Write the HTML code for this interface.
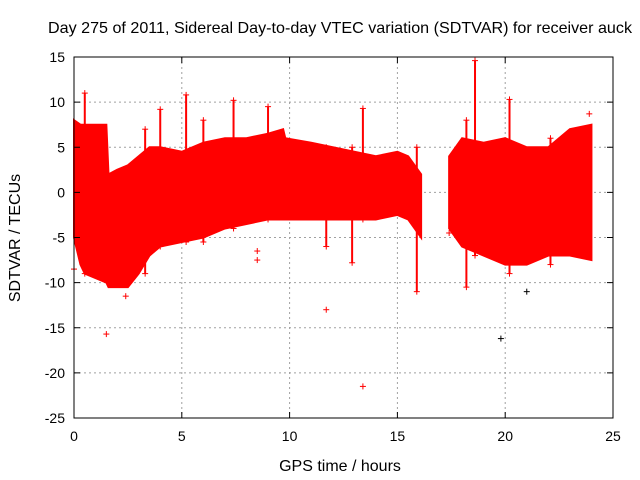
<!DOCTYPE html>
<html><head><meta charset="utf-8"><style>
body{margin:0;background:#fff}
svg{display:block;font-family:"Liberation Sans",sans-serif}
</style></head><body>
<svg id="chart" width="640" height="480">
<rect x="0" y="0" width="640" height="480" fill="#fff"/>
<text x="340" y="33" font-size="16" text-anchor="middle" textLength="584" lengthAdjust="spacingAndGlyphs">Day 275 of 2011, Sidereal Day-to-day VTEC variation (SDTVAR) for receiver auck</text>
<text x="340" y="471" font-size="16" text-anchor="middle">GPS time / hours</text>
<text transform="translate(20,238) rotate(-90)" font-size="16" text-anchor="middle">SDTVAR / TECUs</text>
<g id="grid"></g>
<g id="series"></g>
<g id="axes"></g>
</svg>
<script>
const xTicks=[0,5,10,15,20,25];
const yTicks=[15,10,5,0,-5,-10,-15,-20,-25];
const seg1Hours=[0,0.3,0.5,1,1.5,1.6,2,2.5,3,3.5,4,5,6,7,8,9,9.7,9.8,11,12,13,14,15,15.5,16.1];
const seg1Upper=[8,7.5,7.5,7.5,7.5,2,2.5,3,4,5,5,4.5,5.5,6,6,6.5,7,6,5.5,5,4.5,4,4.5,4,2];
const seg1Lower=[-5,-8,-9,-9.5,-10,-10.5,-10.5,-10.5,-9,-7,-6,-5.5,-5,-4,-3.5,-3,-3,-3,-3,-3,-3,-3,-2.5,-3,-5];
const seg2Hours=[17.4,18,19,20,21,22,23,24];
const seg2Upper=[4,6,5.5,6,5,5,7,7.5];
const seg2Lower=[-4,-6,-7,-8,-8,-7,-7,-7.5];
const spikeX=[0.5,3.3,4.0,5.2,6.0,7.4,9.0,11.7,12.9,13.4,15.9,18.2,18.6,20.2,22.1];
const spikeTop=[11,7,9.2,10.8,8,10.2,9.5,5,5,9.3,5,8,14.6,10.3,6];
const spikeBottom=[-9,-9,-6,-5.5,-5.5,-4,-3,-6,-7.8,-3,-11,-10.5,-7,-9,-8];
const outX=[1.5,11.7,13.4,19.8,0,2.4,8.5,8.5,21.0,17.4,23.9];
const outY=[-15.7,-13,-21.5,-16.2,-8.5,-11.5,-6.5,-7.5,-11,-4.5,8.7];
const X0=74,X1=613,Y0=57,Y1=418;
const xs=v=>X0+(v-0)/25*(X1-X0);
const ys=v=>Y0+(15-v)/40*(Y1-Y0);
const NS="http://www.w3.org/2000/svg";
function mk(t,a,p){const e=document.createElementNS(NS,t);for(const k in a)e.setAttribute(k,a[k]);p.appendChild(e);return e;}
const grid=document.getElementById('grid'),axes=document.getElementById('axes'),ser=document.getElementById('series');
xTicks.forEach(t=>{
 if(t>0&&t<25){const l=mk('line',{x1:xs(t),x2:xs(t),y1:Y0,y2:Y1,stroke:'#a0a0a0','stroke-dasharray':'2,3','stroke-width':1},grid);
 }
 const tx=mk('text',{x:xs(t),y:Y1+23,'font-size':14,'text-anchor':'middle'},axes);tx.textContent=t;
 
 mk('line',{x1:xs(t),x2:xs(t),y1:Y1,y2:Y1-6,stroke:'#000'},axes);mk('line',{x1:xs(t),x2:xs(t),y1:Y0,y2:Y0+6,stroke:'#000'},axes);
});
yTicks.forEach(t=>{
 if(t<15&&t>-25){const l=mk('line',{x1:X0,x2:X1,y1:ys(t),y2:ys(t),stroke:'#a0a0a0','stroke-dasharray':'2,3','stroke-width':1},grid);
 }
 const tx=mk('text',{x:X0-9,y:ys(t)+5,'font-size':14,'text-anchor':'end'},axes);tx.textContent=t;
 
 mk('line',{x1:X0,x2:X0+6,y1:ys(t),y2:ys(t),stroke:'#000'},axes);mk('line',{x1:X1,x2:X1-6,y1:ys(t),y2:ys(t),stroke:'#000'},axes);
});
mk('rect',{x:X0,y:Y0,width:X1-X0,height:Y1-Y0,fill:'none',stroke:'#000'},axes);
function band(h,u,l,name){
 let pts=h.map((v,i)=>xs(v)+','+ys(u[i]));
 for(let i=h.length-1;i>=0;i--)pts.push(xs(h[i])+','+ys(l[i]));
 const p=mk('polygon',{points:pts.join(' '),fill:'#ff0000',stroke:'#ff0000','stroke-width':2},ser);
 
}
band(seg1Hours,seg1Upper,seg1Lower,'data-band-0-16h');
band(seg2Hours,seg2Upper,seg2Lower,'data-band-17-24h');
function cross(x,y,col){
 const g=mk('g',{stroke:col,'stroke-width':1},ser);
 
 
 const cx=xs(x),cy=ys(y);
 mk('line',{x1:cx-3,x2:cx+3,y1:cy,y2:cy},g);mk('line',{x1:cx,x2:cx,y1:cy-3,y2:cy+3},g);
}
spikeX.forEach((x,i)=>{
 const l=mk('line',{x1:xs(x),x2:xs(x),y1:ys(spikeTop[i]),y2:ys(spikeBottom[i]),stroke:'#ff0000','stroke-width':2},ser);
 
 
 cross(x,spikeTop[i],'#ff0000');cross(x,spikeBottom[i],'#ff0000');
});
outX.forEach((x,i)=>cross(x,outY[i],(i==3||i==8)?'#000':'#ff0000'));
</script>
</body></html>
